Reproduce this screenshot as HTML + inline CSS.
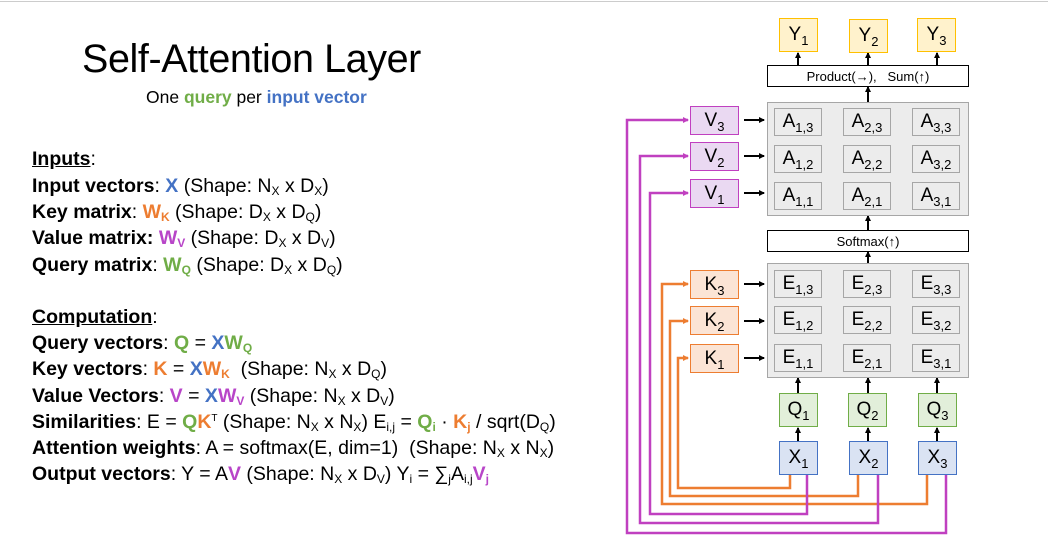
<!DOCTYPE html>
<html><head><meta charset="utf-8"><style>
body{margin:0;width:1048px;height:553px;background:#fff;position:relative;overflow:hidden;font-family:"Liberation Sans",sans-serif;color:#000}
.a{position:absolute}
.t{position:absolute;left:32px;font-size:19.5px;white-space:nowrap;letter-spacing:0}
b{font-weight:bold}
sub{font-size:12px;vertical-align:-3px;line-height:0}
sup{font-size:10px;vertical-align:7px;line-height:0}
.bl{color:#4472C4;font-weight:bold}.or{color:#ED7D31;font-weight:bold}.pu{color:#B845C8;font-weight:bold}.gr{color:#70AD47;font-weight:bold}
.bx{position:absolute;box-sizing:border-box;display:flex;align-items:center;justify-content:center;font-size:19px}
.bx sub{font-size:13px;vertical-align:-5px}
.c{border:1.5px solid #a6a6a6;background:#ececec;width:48px;height:28px}
.y{border:1.5px solid #FFC000;background:#FFF2CC;width:39px;height:34px}
.v{border:1.5px solid #C040C0;background:#EAD9F2;width:49px;height:29px}
.k{border:1.5px solid #ED7D31;background:#FBE4D5;width:49px;height:29px}
.q{border:1.5px solid #70AD47;background:#E2EFDA;width:39px;height:34px}
.x{border:1.5px solid #4472C4;background:#DAE3F3;width:39px;height:34px}
.g{border:1.5px solid #a6a6a6;background:#ececec}
.w{border:1.5px solid #000;background:#fff;font-size:13px}
</style></head><body>
<div class="a" style="left:0;top:1px;width:1048px;height:1px;background:#ccc"></div>
<div class="a" style="left:82px;top:37px;font-size:39.5px;font-weight:300;letter-spacing:-0.4px">Self-Attention Layer</div>
<div class="a" style="left:146px;top:87px;font-size:17.5px">One <span class="gr">query</span> per <span class="bl">input vector</span></div>

<div class="t" style="top:148px"><b><u>Inputs</u></b>:</div>
<div class="t" style="top:175px"><b>Input vectors</b>: <span class="bl">X</span> (Shape: N<sub>X</sub> x D<sub>X</sub>)</div>
<div class="t" style="top:201px"><b>Key matrix</b>: <span class="or">W<sub>K</sub></span> (Shape: D<sub>X</sub> x D<sub>Q</sub>)</div>
<div class="t" style="top:227px"><b>Value matrix:</b> <span class="pu">W<sub>V</sub></span> (Shape: D<sub>X</sub> x D<sub>V</sub>)</div>
<div class="t" style="top:254px"><b>Query matrix</b>: <span class="gr">W<sub>Q</sub></span> (Shape: D<sub>X</sub> x D<sub>Q</sub>)</div>
<div class="t" style="top:306px"><b><u>Computation</u></b>:</div>
<div class="t" style="top:332px"><b>Query vectors</b>: <span class="gr">Q</span> = <span class="bl">X</span><span class="gr">W<sub>Q</sub></span></div>
<div class="t" style="top:358px"><b>Key vectors</b>: <span class="or">K</span> = <span class="bl">X</span><span class="or">W<sub>K</sub></span>&nbsp; (Shape: N<sub>X</sub> x D<sub>Q</sub>)</div>
<div class="t" style="top:385px"><b>Value Vectors</b>: <span class="pu">V</span> = <span class="bl">X</span><span class="pu">W<sub>V</sub></span> (Shape: N<sub>X</sub> x D<sub>V</sub>)</div>
<div class="t" style="top:411px"><b>Similarities</b>: E = <span class="gr">Q</span><span class="or">K</span><sup>T</sup> (Shape: N<sub>X</sub> x N<sub>X</sub>) E<sub>i,j</sub> = <span class="gr">Q<sub>i</sub></span> · <span class="or">K<sub>j</sub></span> / sqrt(D<sub>Q</sub>)</div>
<div class="t" style="top:437px"><b>Attention weights</b>: A = softmax(E, dim=1)&nbsp; (Shape: N<sub>X</sub> x N<sub>X</sub>)</div>
<div class="t" style="top:463px"><b>Output vectors</b>: Y = A<span class="pu">V</span> (Shape: N<sub>X</sub> x D<sub>V</sub>) Y<sub>i</sub> = ∑<sub>j</sub>A<sub>i,j</sub><span class="pu">V<sub>j</sub></span></div>

<svg class="a" style="left:0;top:0" width="1048" height="553">
<defs><marker id="ak" markerWidth="6" markerHeight="6" refX="5" refY="3" orient="auto" markerUnits="userSpaceOnUse"><path d="M0,0L6,3L0,6z" fill="#000"/></marker>
<marker id="ao" markerWidth="6" markerHeight="6" refX="5" refY="3" orient="auto" markerUnits="userSpaceOnUse"><path d="M0,0L6,3L0,6z" fill="#ED7D31"/></marker>
<marker id="ap" markerWidth="6" markerHeight="6" refX="5" refY="3" orient="auto" markerUnits="userSpaceOnUse"><path d="M0,0L6,3L0,6z" fill="#C040C0"/></marker></defs>
<g fill="none" stroke-width="2.5">
<path d="M790,475V488H678V358H688" stroke="#ED7D31" marker-end="url(#ao)"/>
<path d="M858,475V496H670V321H688" stroke="#ED7D31" marker-end="url(#ao)"/>
<path d="M927,475V504H662V284H688" stroke="#ED7D31" marker-end="url(#ao)"/>
<path d="M807,475V514H650V193H688" stroke="#C040C0" marker-end="url(#ap)"/>
<path d="M878,475V523H640V156H688" stroke="#C040C0" marker-end="url(#ap)"/>
<path d="M946,475V533H627V120H688" stroke="#C040C0" marker-end="url(#ap)"/>
</g>
<g stroke="#000" stroke-width="2" marker-end="url(#ak)">
<line x1="744" y1="120" x2="764" y2="120"/><line x1="744" y1="156" x2="764" y2="156"/><line x1="744" y1="193" x2="764" y2="193"/>
<line x1="744" y1="284" x2="764" y2="284"/><line x1="744" y1="321" x2="764" y2="321"/><line x1="744" y1="358" x2="764" y2="358"/>
<line x1="798" y1="65" x2="798" y2="53"/><line x1="868" y1="65" x2="868" y2="53"/><line x1="937" y1="65" x2="937" y2="53"/>
<line x1="868" y1="102" x2="868" y2="87"/><line x1="868" y1="230" x2="868" y2="216"/><line x1="868" y1="263" x2="868" y2="252"/>
<line x1="798" y1="393" x2="798" y2="378"/><line x1="868" y1="393" x2="868" y2="378"/><line x1="937" y1="393" x2="937" y2="378"/>
<line x1="798" y1="441" x2="798" y2="428"/><line x1="868" y1="441" x2="868" y2="428"/><line x1="937" y1="441" x2="937" y2="428"/>
</g>
</svg>

<div class="bx y" style="left:779px;top:18px"><span>Y<sub>1</sub></span></div>
<div class="bx y" style="left:849px;top:19px"><span>Y<sub>2</sub></span></div>
<div class="bx y" style="left:917px;top:18px"><span>Y<sub>3</sub></span></div>
<div class="bx w" style="left:767px;top:65px;width:202px;height:22px"><span>Product(→),&nbsp;&nbsp; Sum(↑)</span></div>
<div class="bx g" style="left:767px;top:102px;width:202px;height:114px"></div>
<div class="bx w" style="left:767px;top:230px;width:202px;height:22px"><span>Softmax(↑)</span></div>
<div class="bx g" style="left:767px;top:263px;width:202px;height:115px"></div>

<div class="bx c" style="left:774px;top:108px"><span>A<sub>1,3</sub></span></div><div class="bx c" style="left:843px;top:108px"><span>A<sub>2,3</sub></span></div><div class="bx c" style="left:912px;top:108px"><span>A<sub>3,3</sub></span></div>
<div class="bx c" style="left:774px;top:145px"><span>A<sub>1,2</sub></span></div><div class="bx c" style="left:843px;top:145px"><span>A<sub>2,2</sub></span></div><div class="bx c" style="left:912px;top:145px"><span>A<sub>3,2</sub></span></div>
<div class="bx c" style="left:774px;top:182px"><span>A<sub>1,1</sub></span></div><div class="bx c" style="left:843px;top:182px"><span>A<sub>2,1</sub></span></div><div class="bx c" style="left:912px;top:182px"><span>A<sub>3,1</sub></span></div>
<div class="bx c" style="left:774px;top:270px"><span>E<sub>1,3</sub></span></div><div class="bx c" style="left:843px;top:270px"><span>E<sub>2,3</sub></span></div><div class="bx c" style="left:912px;top:270px"><span>E<sub>3,3</sub></span></div>
<div class="bx c" style="left:774px;top:306px"><span>E<sub>1,2</sub></span></div><div class="bx c" style="left:843px;top:306px"><span>E<sub>2,2</sub></span></div><div class="bx c" style="left:912px;top:306px"><span>E<sub>3,2</sub></span></div>
<div class="bx c" style="left:774px;top:344px"><span>E<sub>1,1</sub></span></div><div class="bx c" style="left:843px;top:344px"><span>E<sub>2,1</sub></span></div><div class="bx c" style="left:912px;top:344px"><span>E<sub>3,1</sub></span></div>

<div class="bx v" style="left:690px;top:106px"><span>V<sub>3</sub></span></div>
<div class="bx v" style="left:690px;top:142px"><span>V<sub>2</sub></span></div>
<div class="bx v" style="left:690px;top:179px"><span>V<sub>1</sub></span></div>
<div class="bx k" style="left:690px;top:270px"><span>K<sub>3</sub></span></div>
<div class="bx k" style="left:690px;top:306px"><span>K<sub>2</sub></span></div>
<div class="bx k" style="left:690px;top:344px"><span>K<sub>1</sub></span></div>

<div class="bx q" style="left:779px;top:393px"><span>Q<sub>1</sub></span></div>
<div class="bx q" style="left:848px;top:393px"><span>Q<sub>2</sub></span></div>
<div class="bx q" style="left:918px;top:393px"><span>Q<sub>3</sub></span></div>
<div class="bx x" style="left:779px;top:441px"><span>X<sub>1</sub></span></div>
<div class="bx x" style="left:849px;top:441px"><span>X<sub>2</sub></span></div>
<div class="bx x" style="left:918px;top:441px"><span>X<sub>3</sub></span></div>
</body></html>
